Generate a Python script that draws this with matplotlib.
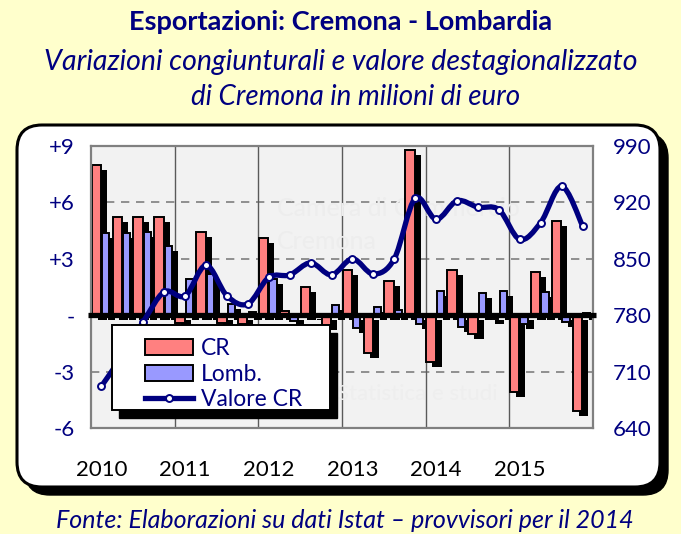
import numpy as np
import matplotlib
matplotlib.use('Agg')
import matplotlib.pyplot as plt
from matplotlib.patches import FancyBboxPatch, Patch, Rectangle, PathPatch
from matplotlib.lines import Line2D
from matplotlib.path import Path
import matplotlib.patheffects as pe

# ---------------- data ----------------
years = ['2010', '2011', '2012', '2013', '2014', '2015']
cr = [8.0, 5.2, 5.2, 5.2,
      -0.4, 4.4, -0.4, -0.45,
      4.1, 0.2, 1.5, -0.5,
      2.4, -2.0, 1.8, 8.8,
      -2.5, 2.4, -1.0, -0.2,
      -4.1, 2.3, 5.0, -5.1]
lomb = [4.35, 4.35, 4.45, 3.7,
        1.95, 2.2, 0.6, 0.15,
        1.9, -0.3, 0.05, 0.55,
        -0.7, 0.45, 0.3, -0.45,
        1.3, -0.65, 1.2, 1.3,
        -0.45, 1.25, -0.35, 0.1]
valore = [692, 730, 772, 809,
          804, 842, 804, 794,
          827, 830, 845, 830,
          850, 831, 850, 925,
          899, 922, 914, 911,
          874, 895, 940, 891]
left_ticks = [-6, -3, 0, 3, 6, 9]
left_labels = ['-6', '-3', '-', '+3', '+6', '+9']
right_ticks = [640, 710, 780, 850, 920, 990]

# ---------------- style ----------------
FONT = 'Lato'
plt.rcParams['font.family'] = [FONT, 'DejaVu Sans']
navy = '#000080'
red = '#FF8080'
blue = '#9999FF'
W, H = 681, 534

fig = plt.figure(figsize=(W / 100, H / 100), dpi=100)
fig.patch.set_facecolor('#FFFFCC')

def px_ax(l, t, r, b):
    return [l / W, (H - b) / H, (r - l) / W, (b - t) / H]

# rounded white panel with shadow
it = fig.dpi_scale_trans
bx0, by_top, bx1, by_bot = 17, 125, 660, 487
shadow = FancyBboxPatch(((bx0 + 8) / 100, (H - by_bot - 8) / 100), (bx1 - bx0) / 100, (by_bot - by_top) / 100,
                        boxstyle='round,pad=0,rounding_size=0.25', transform=it,
                        facecolor='black', edgecolor='black', zorder=-3)
panel = FancyBboxPatch((bx0 / 100, (H - by_bot) / 100), (bx1 - bx0) / 100, (by_bot - by_top) / 100,
                       boxstyle='round,pad=0,rounding_size=0.25', transform=it,
                       facecolor='white', edgecolor='black', lw=2.2, zorder=-2)
fig.patches.extend([shadow, panel])

ax = fig.add_axes(px_ax(91, 146, 593, 428))
ax.set_facecolor('#F2F2F2')
n = len(cr)
xq = np.arange(n)
ax.set_xlim(-0.5, n - 0.5)
ax.set_ylim(-6, 9)

for y in [-3, 3, 6]:
    ax.axhline(y, color='#7F7F7F', lw=1.2, ls=(0, (5, 4)), zorder=0.5)
for k in range(1, len(years)):
    ax.axvline(4 * k - 0.5, color='#5A5A5A', lw=1.0, zorder=0.5)

sh = [pe.SimplePatchShadow(offset=(4.3, -3.6), shadow_rgbFace='black', alpha=1.0), pe.Normal()]
for i in range(n):
    b1 = ax.bar(xq[i] - 0.47, cr[i], width=0.45, align='edge', color=red,
                edgecolor='black', lw=1.4, zorder=2)
    b1[0].set_path_effects(sh)
    b2 = ax.bar(xq[i] + 0.03, lomb[i], width=0.35, align='edge', color=blue,
                edgecolor='black', lw=1.4, zorder=2)
    b2[0].set_path_effects(sh)

ax.plot([-0.65, n - 0.35], [0, 0], color='black', lw=3.8, zorder=3, clip_on=False,
        solid_capstyle='butt')

for s in ax.spines.values():
    s.set_color('#808080')
    s.set_linewidth(1.6)

ax.set_yticks(left_ticks)
ax.set_yticklabels(left_labels)
ax.set_xticks(xq[::4])
ax.set_xticklabels(years)
ax.tick_params(axis='y', length=0, pad=11.5, labelsize=16, labelcolor=navy)
ax.tick_params(axis='x', length=0, pad=23, labelsize=16, labelcolor='black')

# faint watermark
ax.text(0.37, 0.78, 'Camera di Commercio', transform=ax.transAxes, fontsize=18,
        color='#EDEDED', zorder=0.6, ha='left', va='center')
ax.text(0.37, 0.66, 'Cremona', transform=ax.transAxes, fontsize=18,
        color='#EDEDED', zorder=0.6, ha='left', va='center')
ax.text(0.49, 0.12, 'Statistica e studi', transform=ax.transAxes, fontsize=16,
        color='#EEEEEE', zorder=0.6, ha='left', va='center')

ax2 = ax.twinx()
ax2.set_ylim(640, 990)
ax2.set_yticks(right_ticks)
ax2.tick_params(axis='y', length=0, pad=14, labelsize=16, labelcolor=navy)
for s in ax2.spines.values():
    s.set_visible(False)

# smoothed line (Catmull-Rom -> Bezier)
xv = xq.astype(float)
yv = np.array(valore, float)
verts = [(xv[0], yv[0])]
codes = [Path.MOVETO]
for i in range(n - 1):
    p0 = np.array([xv[max(i - 1, 0)], yv[max(i - 1, 0)]])
    p1 = np.array([xv[i], yv[i]])
    p2 = np.array([xv[i + 1], yv[i + 1]])
    p3 = np.array([xv[min(i + 2, n - 1)], yv[min(i + 2, n - 1)]])
    c1 = p1 + (p2 - p0) / 6
    c2 = p2 - (p3 - p1) / 6
    verts += [tuple(c1), tuple(c2), tuple(p2)]
    codes += [Path.CURVE4] * 3
ax2.add_patch(PathPatch(Path(verts, codes), fill=False, edgecolor=navy, lw=3.8,
                        capstyle='round', joinstyle='round', zorder=3))
ax2.plot(xv, yv, ls='none', marker='o', ms=5, mfc='white', mec=navy, mew=1.4, zorder=4)

# legend frame (figure level) with shadow
lx0, ly0, lx1, ly1 = 112, 325, 330, 410
fig.patches.append(Rectangle(((lx0 + 7) / W, (H - ly1 - 8) / H), (lx1 - lx0) / W, (ly1 - ly0) / H,
                             transform=fig.transFigure, facecolor='black', edgecolor='black', zorder=3))
fig.patches.append(Rectangle((lx0 / W, (H - ly1) / H), (lx1 - lx0) / W, (ly1 - ly0) / H,
                             transform=fig.transFigure, facecolor='white', edgecolor='black',
                             lw=1.4, zorder=3.5))
handles = [Patch(facecolor=red, edgecolor='black', lw=1.4),
           Patch(facecolor=blue, edgecolor='black', lw=1.4),
           Line2D([], [], color=navy, lw=3.8, marker='o', ms=5, mfc='white', mec=navy, mew=1.4)]
leg = fig.legend(handles, ['CR', 'Lomb.', 'Valore CR'], loc='upper left',
                 bbox_to_anchor=(145 / W, (H - 338) / H), bbox_transform=fig.transFigure,
                 frameon=False, borderpad=0, borderaxespad=0, fontsize=16.5,
                 handlelength=2.1, handleheight=0.7, labelspacing=0.2, handletextpad=0.35,
                 numpoints=1)
leg.set_zorder(5)
for t in leg.get_texts():
    t.set_color(navy)

# titles
fig.text(0.5, (H - 22) / H, 'Esportazioni: Cremona - Lombardia', ha='center', va='center',
         fontsize=19.5, fontweight='bold', color=navy)
fig.text(0.5, (H - 62) / H, 'Variazioni congiunturali e valore destagionalizzato', ha='center',
         va='center', fontsize=20.5, style='italic', color=navy)
fig.text(0.5 + 15 / W, (H - 97) / H, 'di Cremona in milioni di euro', ha='center', va='center',
         fontsize=20, style='italic', color=navy)
fig.text(345 / W, (H - 521) / H, 'Fonte: Elaborazioni su dati Istat – provvisori per il 2014',
         ha='center', va='center', fontsize=18, style='italic', color=navy)

fig.savefig('out.png', dpi=100, facecolor=fig.get_facecolor())
